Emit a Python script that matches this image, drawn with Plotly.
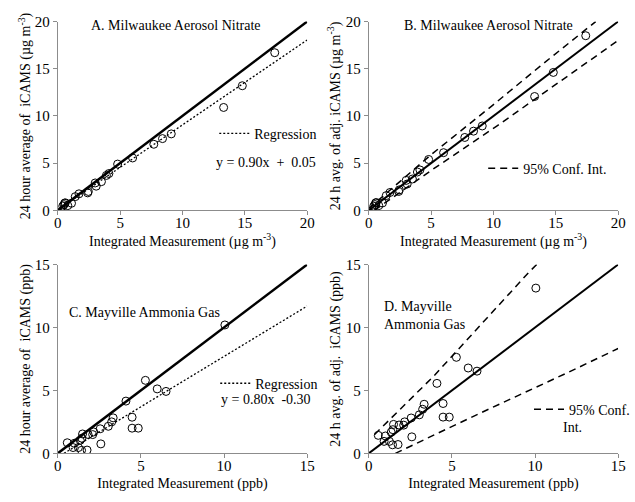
import plotly.graph_objects as go

# ---------------- data ----------------
# Panel A: Milwaukee aerosol nitrate (ug m-3)
a_x = [0.40, 0.50, 0.55, 0.60, 0.80, 1.10, 1.40, 1.70, 2.40, 2.45, 3.00, 3.08, 3.50, 3.90, 4.10, 4.80, 6.00, 7.70, 8.40, 9.10, 13.30, 14.80, 17.40]
a_y = [0.45, 0.60, 0.75, 0.80, 0.50, 0.75, 1.45, 1.75, 1.85, 2.00, 2.90, 2.56, 3.04, 3.70, 3.90, 4.90, 5.55, 7.00, 7.60, 8.10, 10.90, 13.20, 16.70]
# Panel B: adjusted iCAMS
b_x = a_x
b_y = [0.44, 0.61, 0.78, 0.83, 0.50, 0.78, 1.56, 1.89, 2.00, 2.17, 3.17, 2.79, 3.32, 4.06, 4.28, 5.39, 6.11, 7.72, 8.39, 8.94, 12.06, 14.61, 18.50]
# Panel C: Mayville ammonia gas (ppb)
c_x = [0.57, 0.92, 1.00, 1.24, 1.35, 1.43, 1.45, 1.49, 1.76, 1.82, 2.10, 2.16, 2.55, 2.59, 3.04, 3.24, 3.33, 4.10, 4.47, 4.47, 4.84, 5.27, 5.98, 6.51, 10.05]
c_y = [0.84, 0.46, 0.80, 0.46, 1.04, 0.24, 1.20, 1.54, 0.26, 1.50, 1.49, 1.70, 1.95, 0.75, 2.15, 2.50, 2.82, 4.15, 2.87, 2.00, 2.00, 5.80, 5.12, 4.92, 10.20]
# Panel D: adjusted iCAMS
d_x = c_x
d_y = [1.43, 0.95, 1.38, 0.95, 1.68, 0.68, 1.88, 2.30, 0.70, 2.25, 2.24, 2.50, 2.81, 1.31, 3.06, 3.50, 3.90, 5.56, 3.96, 2.88, 2.88, 7.63, 6.78, 6.53, 13.13]

# reference 1:1 lines
one_ab = [0, 20]
one_cd = [0, 15]
# regression lines
reg_a_x = [0, 20]
reg_a_y = [0.05, 18.05]
reg_c_x = [0.375, 15]
reg_c_y = [0.0, 11.70]
# 95% confidence interval lines
ci_b_up_x = [0, 5, 10, 13.75, 18.2]
ci_b_up_y = [0.2, 5.9, 11.2, 15.28, 20.0]
ci_b_lo_x = [0.45, 5.13, 10.35, 15.58, 20]
ci_b_lo_y = [0.0, 4.34, 9.0, 13.92, 18.0]
ci_d_up_x = [0.35, 3.92, 9.61, 10.1]
ci_d_up_y = [1.50, 6.15, 14.36, 15.0]
ci_d_lo_x = [1.60, 7.34, 11.96, 15.0]
ci_d_lo_y = [0.0, 3.59, 6.41, 8.33]

FONT = "Liberation Serif, Times New Roman, Times, serif"
W, H = 635, 502

def px(v):
    return v / W

def py(v):
    return 1 - v / H

fig = go.Figure()

mk = dict(symbol="circle-open", size=8, color="black", line=dict(width=1))

def pts(x, y, n):
    fig.add_trace(go.Scatter(x=x, y=y, mode="markers", marker=mk, showlegend=False,
                             xaxis="x" + n, yaxis="y" + n))

def line(x, y, n, width, dash="solid", name=None, legend=None):
    fig.add_trace(go.Scatter(x=x, y=y, mode="lines", line=dict(color="black", width=width, dash=dash),
                             showlegend=name is not None, name=name or "", legend=legend,
                             xaxis="x" + n, yaxis="y" + n))

# Panel A
line(one_ab, one_ab, "", 2.5)
line(reg_a_x, reg_a_y, "", 1.3, "2px,2px", "Regression", "legend")
pts(a_x, a_y, "")
# Panel B
line(one_ab, one_ab, "2", 2)
line(ci_b_up_x, ci_b_up_y, "2", 1.5, "7px,5px", "95% Conf. Int.", "legend2")
line(ci_b_lo_x, ci_b_lo_y, "2", 1.5, "7px,5px")
pts(b_x, b_y, "2")
# Panel C
line(one_cd, one_cd, "3", 2.5)
line(reg_c_x, reg_c_y, "3", 1.3, "2px,2px", "Regression", "legend3")
pts(c_x, c_y, "3")
# Panel D
line(one_cd, one_cd, "4", 2)
line(ci_d_up_x, ci_d_up_y, "4", 1.5, "7px,5px", "95% Conf.", "legend4")
line(ci_d_lo_x, ci_d_lo_y, "4", 1.5, "7px,5px")
pts(d_x, d_y, "4")

axcol = "#8c8c8c"
def axis(dom, rng, title, anchor, standoff, tls=0):
    return dict(domain=dom, range=rng, dtick=5, showgrid=False, zeroline=False,
                showline=True, linecolor=axcol, linewidth=1, ticks="outside", tickcolor=axcol,
                ticklen=4, tickfont=dict(family=FONT, size=15, color="black"),
                ticklabelstandoff=tls,
                title=dict(text=title, font=dict(family=FONT, size=14, color="black"), standoff=standoff),
                anchor=anchor, fixedrange=True)

xl = [px(55), px(310)]
xr = [px(373), px(628)]
yt = [py(209), py(14)]
yb = [py(460), py(265)]
ug = "(µg m<sup>-3</sup>)"

fig.update_layout(
    width=W, height=H, margin=dict(l=0, r=0, t=0, b=0),
    paper_bgcolor="white", plot_bgcolor="white",
    font=dict(family=FONT, size=14, color="black"),
    xaxis=axis(xl, [0, 20], "Integrated Measurement " + ug, "y", 1, -5),
    yaxis=axis(yt, [0, 20], "24 hour average of \u00a0iCAMS " + ug, "x", 0),
    xaxis2=axis(xr, [0, 20], "Integrated Measurement " + ug, "y2", 1, -5),
    yaxis2=axis(yt, [0, 20], "24 h avg. of adj. iCAMS " + ug, "x2", 1),
    xaxis3=axis(xl, [0, 15], "Integrated Measurement (ppb)", "y3", 4, -5),
    yaxis3=axis(yb, [0, 15], "24 hour average of \u00a0iCAMS (ppb)", "x3", 0),
    xaxis4=axis(xr, [0, 15], "Integrated Measurement (ppb)", "y4", 4, -5),
    yaxis4=axis(yb, [0, 15], "24 h avg. of adj. \u00a0iCAMS (ppb)", "x4", 1),
)

leg = dict(bgcolor="rgba(0,0,0,0)", font=dict(family=FONT, size=14, color="black"),
           xanchor="left", yanchor="middle", borderwidth=0, tracegroupgap=0)
fig.update_layout(
    legend=dict(leg, x=px(215), y=py(130)),
    legend2=dict(leg, x=px(490), y=py(166)),
    legend3=dict(leg, x=px(216), y=py(388)),
    legend4=dict(leg, x=px(537), y=py(415)),
)

ann = [
    dict(text="A. Milwaukee Aerosol Nitrate", x=px(176), y=py(18), xanchor="center"),
    dict(text="B. Milwaukee Aerosol Nitrate", x=px(495), y=py(18), xanchor="center"),
    dict(text="C. Mayville Ammonia Gas", x=px(64), y=py(315), xanchor="left"),
    dict(text="D. Mayville<br>Ammonia Gas", x=px(387), y=py(318), xanchor="left", align="left"),
    dict(text="Int.", x=px(570), y=py(433), xanchor="left"),
    dict(text="y = 0.90x \u00a0+ \u00a00.05", x=px(268), y=py(160), xanchor="center"),
    dict(text="y = 0.80x \u00a0-0.30", x=px(268), y=py(404), xanchor="center"),
]
for a in ann:
    a.update(xref="paper", yref="paper", yanchor="middle", showarrow=False,
             font=dict(family=FONT, size=14, color="black"))
fig.update_layout(annotations=ann)

fig.write_html("out.html", config={"displayModeBar": False},
               post_script="document.body.style.margin='0';document.body.style.overflow='hidden';")
